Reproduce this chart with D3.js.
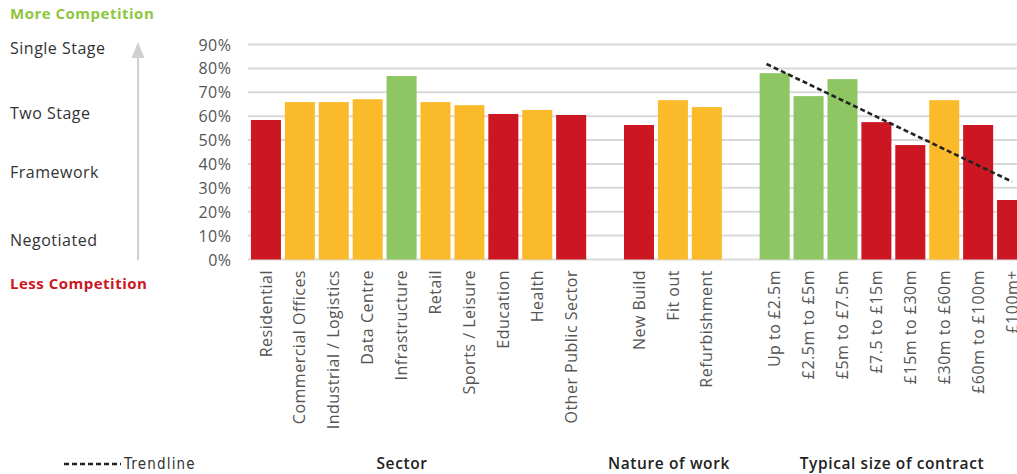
<!DOCTYPE html>
<html><head><meta charset="utf-8">
<script src="https://cdn.jsdelivr.net/npm/d3@7"></script>
<style>
html,body{margin:0;padding:0;background:#fff;overflow:hidden}
svg{display:block}
</style></head>
<body>
<svg id="chart" width="1017" height="474"></svg>
<script>
// ---- data ----
const sectorCats = ["Residential","Commercial Offices","Industrial / Logistics","Data Centre","Infrastructure","Retail","Sports / Leisure","Education","Health","Other Public Sector"];
const sectorVals = [58.4,65.9,65.9,67.1,76.8,65.9,64.6,60.9,62.6,60.5];
const sectorLevels = ["low","mid","mid","mid","high","mid","mid","low","mid","low"];

const natureCats = ["New Build","Fit out","Refurbishment"];
const natureVals = [56.3,66.7,63.8];
const natureLevels = ["low","mid","mid"];

const sizeCats = ["Up to £2.5m","£2.5m to £5m","£5m to £7.5m","£7.5 to £15m","£15m to £30m","£30m to £60m","£60m to £100m","£100m+"];
const sizeVals = [78.0,68.4,75.5,57.5,47.9,66.7,56.3,24.9];
const sizeLevels = ["high","high","high","low","low","mid","low","low"];

const trendCats = ["Up to £2.5m","£100m+"];
const trendVals = [80.2,32.6];

const groupTitles = ["Sector","Nature of work","Typical size of contract"];
const yTicks = [0,10,20,30,40,50,60,70,80,90];
const stageLabels = ["Single Stage","Two Stage","Framework","Negotiated"];
const stageValues = [88.5,61.3,36.6,8.2];

const colors = {high:"#8DC663", mid:"#FBBA2A", low:"#CC1622"};

// ---- build ----
const groups = [
  {title:groupTitles[0], cats:sectorCats, vals:sectorVals, lv:sectorLevels},
  {title:groupTitles[1], cats:natureCats, vals:natureVals, lv:natureLevels},
  {title:groupTitles[2], cats:sizeCats, vals:sizeVals, lv:sizeLevels}
];
const domain = [];
const rows = [];
groups.forEach((g,gi)=>{
  if(gi>0) domain.push("__gap"+gi);
  g.cats.forEach((c,i)=>{domain.push(c); rows.push({cat:c,val:g.vals[i],lv:g.lv[i]});});
});

const svg = d3.select("#chart");
const x = d3.scaleBand().domain(domain).range([249,1029]).paddingInner(0.115).paddingOuter(0.057);
const y = d3.scaleLinear().domain([0,90]).range([259.5,44.5]);
const lf = "'Open Sans', sans-serif";

// gridlines
svg.append("g").selectAll("line").data(yTicks).join("line")
  .attr("x1",248).attr("x2",1017)
  .attr("y1",d=>y(d)).attr("y2",d=>y(d))
  .attr("stroke","#d9d9d9").attr("stroke-width",2);

// y axis labels
const yAxis = d3.axisLeft(y).tickValues(yTicks).tickFormat(d=>d+"%").tickSize(0).tickPadding(0);
const ya = svg.append("g").attr("transform","translate(231.5,0)").call(yAxis);
ya.select(".domain").remove();
ya.selectAll("text").attr("font-family",lf).attr("font-size",16).attr("letter-spacing",0.5)
  .attr("fill","#555").attr("dy","0.35em");

// bars
svg.append("g").selectAll("rect").data(rows).join("rect")
  .attr("x",d=>x(d.cat)).attr("width",x.bandwidth())
  .attr("y",d=>y(d.val)).attr("height",d=>y(0)-y(d.val))
  .attr("fill",d=>colors[d.lv]);

// x labels
const xa = svg.append("g").attr("transform","translate(0,260)")
  .call(d3.axisBottom(x).tickValues(rows.map(r=>r.cat)).tickSize(0).tickPadding(0));
xa.select(".domain").remove();
xa.selectAll("text")
  .attr("font-family",lf).attr("font-size",16).attr("letter-spacing",0.5).attr("fill","#555")
  .attr("transform","rotate(-90)").attr("text-anchor","end")
  .attr("x",-10).attr("y",0).attr("dy","0.35em");

// trendline
const step = x.step();
const c0 = x(trendCats[0]) + x.bandwidth()/2;
const tx0 = c0 - step*0.24;
const tx1 = x(trendCats[1]) + x.bandwidth()/2;
const slope = (trendVals[1]-trendVals[0]) / (tx1 - c0);
const ty0 = trendVals[0] + slope*(tx0 - c0);
svg.append("line")
  .attr("x1",tx0).attr("y1",y(ty0)).attr("x2",tx1).attr("y2",y(trendVals[1]))
  .attr("stroke","#222").attr("stroke-width",2.6).attr("stroke-dasharray","5,3");

// left side
svg.append("text").attr("x",10).attr("y",19).text("More Competition")
  .attr("font-family",lf).attr("font-weight","bold").attr("font-size",15).attr("letter-spacing",0.5).attr("fill","#8DC63F");
svg.append("text").attr("x",10).attr("y",289).text("Less Competition")
  .attr("font-family",lf).attr("font-weight","bold").attr("font-size",15).attr("letter-spacing",0.5).attr("fill","#CC1622");
svg.append("g").selectAll("text").data(stageLabels).join("text")
  .attr("x",10).attr("y",(d,i)=>y(stageValues[i])).attr("dy","0.35em")
  .text(d=>d).attr("font-family",lf).attr("font-size",16).attr("letter-spacing",0.5).attr("fill","#333");

// arrow
svg.append("line").attr("x1",138).attr("x2",138).attr("y1",56).attr("y2",260)
  .attr("stroke","#d0d0d0").attr("stroke-width",2);
svg.append("path").attr("d","M131.5,58 L138,42 L144.5,58 Z").attr("fill","#d0d0d0");

// bottom legend
svg.append("line").attr("x1",64).attr("x2",121).attr("y1",464).attr("y2",464)
  .attr("stroke","#222").attr("stroke-width",2.6).attr("stroke-dasharray","5,3");
svg.append("text").attr("x",124).attr("y",469).text("Trendline")
  .attr("font-family","'DejaVu Sans Condensed','Liberation Sans Narrow',sans-serif").attr("font-size",15)
  .attr("letter-spacing",1.2).attr("fill","#333");

const titleX = [402,669,892];
svg.append("g").selectAll("text").data(groupTitles).join("text")
  .attr("x",(d,i)=>titleX[i]).attr("y",469).attr("text-anchor","middle").text(d=>d)
  .attr("font-family",lf).attr("font-weight","600").attr("font-size",15.5).attr("letter-spacing",0.6).attr("fill","#222");
</script>
</body></html>
